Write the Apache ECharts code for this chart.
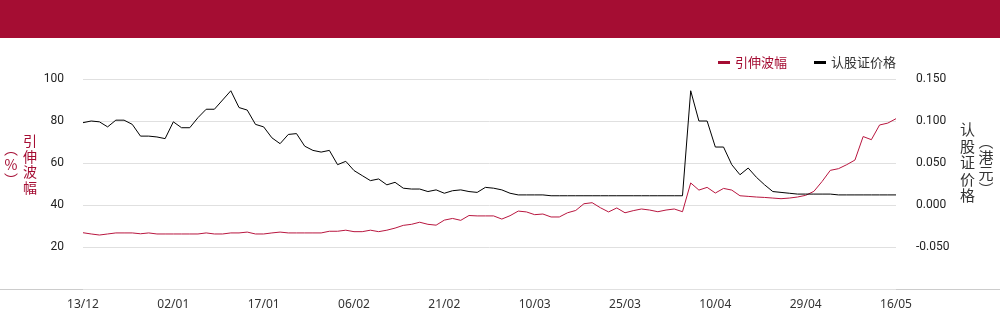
<!DOCTYPE html>
<html>
<head>
<meta charset="utf-8">
<script src="https://cdn.jsdelivr.net/npm/echarts@6/dist/echarts.min.js"></script>
<style>
    html, body { margin: 0; padding: 0; background: #fff; }
    #chart-warrant-main { width: 1000px; height: 324px; }
</style>
</head>
<body>
<div id="chart-warrant-main"></div>
<script>
let dateLabels = [
    "13/12", "16/12", "17/12", "18/12", "19/12", "20/12", "23/12", "24/12", "27/12", "30/12", "31/12",
    "02/01", "03/01", "06/01", "07/01", "08/01", "09/01", "10/01", "13/01", "14/01", "15/01", "16/01",
    "17/01", "20/01", "21/01", "22/01", "23/01", "24/01", "27/01", "28/01", "03/02", "04/02", "05/02",
    "06/02", "07/02", "10/02", "11/02", "12/02", "13/02", "14/02", "17/02", "18/02", "19/02", "20/02",
    "21/02", "24/02", "25/02", "26/02", "27/02", "28/02", "03/03", "04/03", "05/03", "06/03", "07/03",
    "10/03", "11/03", "12/03", "13/03", "14/03", "17/03", "18/03", "19/03", "20/03", "21/03", "24/03",
    "25/03", "26/03", "27/03", "28/03", "31/03", "01/04", "02/04", "03/04", "07/04", "08/04", "09/04",
    "10/04", "11/04", "14/04", "15/04", "16/04", "17/04", "22/04", "23/04", "24/04", "25/04", "28/04",
    "29/04", "30/04", "02/05", "06/05", "07/05", "08/05", "09/05", "12/05", "13/05", "14/05", "15/05",
    "16/05"
];
// 引伸波幅 (%)
let impliedVol = [
    26.8, 26.2, 25.7, 26.2, 26.7, 26.7, 26.7, 26.3, 26.7, 26.2, 26.2, 26.2, 26.2, 26.2, 26.2,
    26.7, 26.2, 26.2, 26.7, 26.7, 27.1, 26.2, 26.2, 26.7, 27.1, 26.7, 26.7, 26.7, 26.7, 26.7,
    27.5, 27.5, 28.0, 27.3, 27.3, 28.0, 27.3, 28.0, 29.0, 30.3, 30.8, 31.8, 30.8, 30.4, 32.8,
    33.6, 32.7, 35.0, 34.8, 34.8, 34.8,
    33.3, 34.9, 37.1, 36.7, 35.4, 35.7, 34.3, 34.3, 36.3, 37.4, 40.6, 41.1, 38.7, 36.7, 38.6,
    36.3, 37.3, 38.1, 37.6, 36.8, 37.6, 38.1, 36.8,
    50.5, 47.1, 48.4, 45.7, 47.9, 47.1, 44.4, 44.1, 43.8, 43.6, 43.3, 43.0, 43.3, 43.8, 44.6,
    46.5, 51.2, 56.5, 57.3, 59.2, 61.4, 72.6, 71.1, 78.1, 79.0, 81.1
];
// 认股证价格 (港元)
let warrantPrice = [
    0.098, 0.100, 0.099, 0.093, 0.101, 0.101, 0.096, 0.082, 0.082, 0.081, 0.079, 0.099, 0.092,
    0.092, 0.104, 0.114, 0.114, 0.125, 0.136, 0.116, 0.113, 0.096, 0.093, 0.080, 0.073, 0.084,
    0.085, 0.070, 0.065, 0.063, 0.065, 0.048, 0.052, 0.041, 0.035, 0.029, 0.031, 0.024, 0.027,
    0.020, 0.019, 0.019, 0.016, 0.018, 0.014, 0.017, 0.018, 0.016, 0.015, 0.021, 0.020, 0.018,
    0.014, 0.012, 0.012, 0.012, 0.012, 0.011,
    0.011, 0.011, 0.011, 0.011, 0.011, 0.011, 0.011, 0.011, 0.011, 0.011, 0.011, 0.011, 0.011,
    0.011, 0.011, 0.011,
    0.136, 0.100, 0.100, 0.069, 0.069, 0.048, 0.036, 0.044, 0.033, 0.024, 0.016, 0.015, 0.014,
    0.013, 0.013, 0.013, 0.013, 0.013, 0.012,
    0.012, 0.012, 0.012, 0.012, 0.012, 0.012, 0.012
];
let leftTicks = { min: 0, max: 100, interval: 20 };
let rightTicks = { min: -0.1, max: 0.15, interval: 0.05 };

let brandRed = "#a50d33";
let cjkFont = '"Noto Sans CJK SC", "Noto Sans", sans-serif';
let myChart = echarts.init(document.getElementById("chart-warrant-main"));

let option = {
    animation: false,
    grid: { left: 83, right: 104, top: 79, bottom: 35 },
    legend: {
        right: 99,
        top: 51,
        icon: "rect",
        itemWidth: 12,
        itemHeight: 3,
        itemGap: 27,
        textStyle: { fontFamily: cjkFont, fontSize: 13, color: "#333" },
        data: [
            { name: "引伸波幅", textStyle: { color: brandRed } },
            { name: "认股证价格", textStyle: { color: "#333" } },
        ],
    },
    xAxis: {
        type: "category",
        data: dateLabels,
        boundaryGap: false,
        axisLine: { show: false },
        axisTick: { show: false },
        axisLabel: {
            interval: 10,
            margin: 10,
            color: "#333",
            fontSize: 12,
            fontFamily: '"Noto Sans", sans-serif',
        },
    },
    yAxis: [
        {
            type: "value",
            min: leftTicks.min,
            max: leftTicks.max,
            interval: leftTicks.interval,
            axisLabel: {
                showMinLabel: false,
                margin: 19,
                color: "#222",
                fontSize: 12,
                fontFamily: "Roboto, sans-serif",
            },
            splitLine: { lineStyle: { color: "#e0e0e0" } },
        },
        {
            type: "value",
            min: rightTicks.min,
            max: rightTicks.max,
            interval: rightTicks.interval,
            axisLabel: {
                showMinLabel: false,
                margin: 20,
                color: "#222",
                fontSize: 12,
                fontFamily: "Roboto, sans-serif",
                formatter: (v) => v.toFixed(3),
            },
            splitLine: { show: false },
        },
    ],
    series: [
        {
            name: "引伸波幅",
            type: "line",
            yAxisIndex: 0,
            data: impliedVol,
            symbol: "none",
            color: brandRed,
            lineStyle: { width: 1, color: "#b8163f" },
        },
        {
            name: "认股证价格",
            type: "line",
            yAxisIndex: 1,
            data: warrantPrice,
            symbol: "none",
            color: "#000",
            lineStyle: { width: 1, color: "#000" },
        },
    ],
    graphic: [
        { type: "rect", left: 0, top: 0, shape: { width: 1000, height: 38 }, style: { fill: brandRed }, silent: true },
        { type: "line", shape: { x1: 0, y1: 289.5, x2: 1000, y2: 289.5 }, style: { stroke: "#cccccc", lineWidth: 1 }, silent: true },
        {
            type: "text", x: 30, y: 133,
            style: { text: "引\n伸\n波\n幅", fill: brandRed, font: "14px " + cjkFont, lineHeight: 15.5, align: "center", verticalAlign: "top" },
        },
        {
            type: "text", x: 11, y: 141,
            style: { text: "︵\n%\n︶", fill: brandRed, font: "14px " + cjkFont, lineHeight: 15.5, align: "center", verticalAlign: "top" },
        },
        {
            type: "text", x: 967.5, y: 121,
            style: { text: "认\n股\n证\n价\n格", fill: "#333", font: "15px " + cjkFont, lineHeight: 16.6, align: "center", verticalAlign: "top" },
        },
        {
            type: "text", x: 986, y: 133,
            style: { text: "︵\n港\n元\n︶", fill: "#333", font: "15px " + cjkFont, lineHeight: 16, align: "center", verticalAlign: "top" },
        },
    ],
};
option && myChart.setOption(option);

window.addEventListener("resize", function () {
    myChart.resize();
});
</script>
</body>
</html>
